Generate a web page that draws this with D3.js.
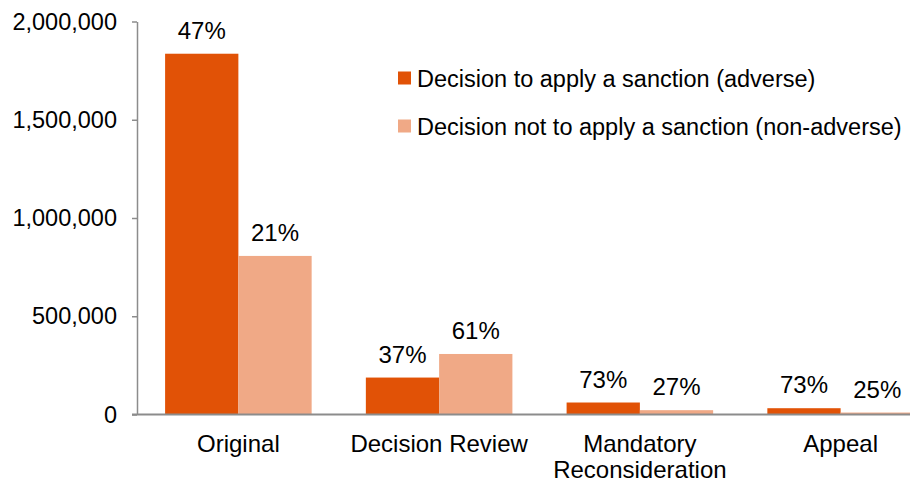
<!DOCTYPE html>
<html>
<head>
<meta charset="utf-8">
<script src="https://cdn.jsdelivr.net/npm/d3@7"></script>
<style>
  html, body { margin: 0; padding: 0; background: #fff; }
  svg { display: block; font-family: "Liberation Sans", Arial, sans-serif; }
</style>
</head>
<body>
<svg id="chart" width="910" height="483"></svg>
<script>
// Decisions by stage
const categories = ["Original", "Decision Review", "Mandatory\nReconsideration", "Appeal"];
const seriesNames = ["Decision to apply a sanction (adverse)", "Decision not to apply a sanction (non-adverse)"];
const adverseValues = [1836000, 188000, 61000, 32000];
const nonAdverseValues = [807000, 308000, 22000, 10000];
const adversePct = ["47%", "37%", "73%", "73%"];
const nonAdversePct = ["21%", "61%", "27%", "25%"];
const yTicks = [0, 500000, 1000000, 1500000, 2000000];
const colors = ["#E15206", "#F0A986"];

const svg = d3.select("#chart");
const fontSize = 24;
const tickFontSize = 23.5;
const legendFontSize = 23.5;

const y = d3.scaleLinear().domain([0, 2000000]).range([414.5, 21.5]);
const x0 = d3.scaleBand().domain(categories).range([138, 941])
  .paddingInner(0.27).paddingOuter(0.135);
const keys = [0, 1];
const x1 = d3.scaleBand().domain(keys).range([0, x0.bandwidth()]);

const rows = categories.map((c, i) => ({
  cat: c,
  vals: [adverseValues[i], nonAdverseValues[i]],
  pcts: [adversePct[i], nonAdversePct[i]]
}));

// Bars
const groups = svg.append("g").selectAll("g").data(rows).join("g")
  .attr("transform", d => `translate(${x0(d.cat)},0)`);

groups.selectAll("rect").data(d => keys.map(k => ({k, v: d.vals[k]}))).join("rect")
  .attr("x", d => x1(d.k))
  .attr("width", x1.bandwidth())
  .attr("y", d => y(d.v))
  .attr("height", d => y(0) - y(d.v))
  .attr("fill", d => colors[d.k]);

// Percentage labels above bars
groups.selectAll("text.pct").data(d => keys.map(k => ({k, v: d.vals[k], p: d.pcts[k]}))).join("text")
  .attr("class", "pct")
  .attr("x", d => x1(d.k) + x1.bandwidth() / 2)
  .attr("y", d => y(d.v) - 15)
  .attr("text-anchor", "middle")
  .attr("font-size", fontSize)
  .attr("fill", "#000")
  .text(d => d.p);

// Y axis
const yAxis = d3.axisLeft(y).tickValues(yTicks).tickSize(5).tickSizeOuter(0)
  .tickPadding(15).tickFormat(d3.format(","));
const yg = svg.append("g").attr("transform", "translate(137,0)").call(yAxis);
yg.select(".domain").attr("stroke", "#8c8c8c").attr("stroke-width", 1.5);
yg.selectAll(".tick line").attr("stroke", "#8c8c8c").attr("stroke-width", 1.5);
yg.selectAll(".tick text").attr("font-size", tickFontSize).attr("fill", "#000")
  .attr("font-family", "Liberation Sans, Arial, sans-serif");

// Baseline
svg.append("line")
  .attr("x1", 132).attr("x2", 910)
  .attr("y1", y(0)).attr("y2", y(0))
  .attr("stroke", "#8c8c8c").attr("stroke-width", 2);

// Category labels
const catLabels = svg.append("g").selectAll("text").data(categories).join("text")
  .attr("x", d => x0(d) + x0.bandwidth() / 2)
  .attr("y", 452)
  .attr("text-anchor", "middle")
  .attr("font-size", fontSize)
  .attr("fill", "#000");
catLabels.each(function(d) {
  const lines = d.split("\n");
  d3.select(this).selectAll("tspan").data(lines).join("tspan")
    .attr("x", x0(d) + x0.bandwidth() / 2)
    .attr("dy", (l, i) => i === 0 ? 0 : 26)
    .text(l => l);
});

// Legend
const legend = svg.append("g").selectAll("g").data(seriesNames).join("g")
  .attr("transform", (d, i) => `translate(398,${78 + i * 48})`);
legend.append("rect")
  .attr("x", 0).attr("y", -6.5).attr("width", 13).attr("height", 13)
  .attr("fill", (d, i) => colors[i]);
legend.append("text")
  .attr("x", 19).attr("y", 8.5)
  .attr("font-size", legendFontSize)
  .attr("fill", "#000")
  .text(d => d);
</script>
</body>
</html>
